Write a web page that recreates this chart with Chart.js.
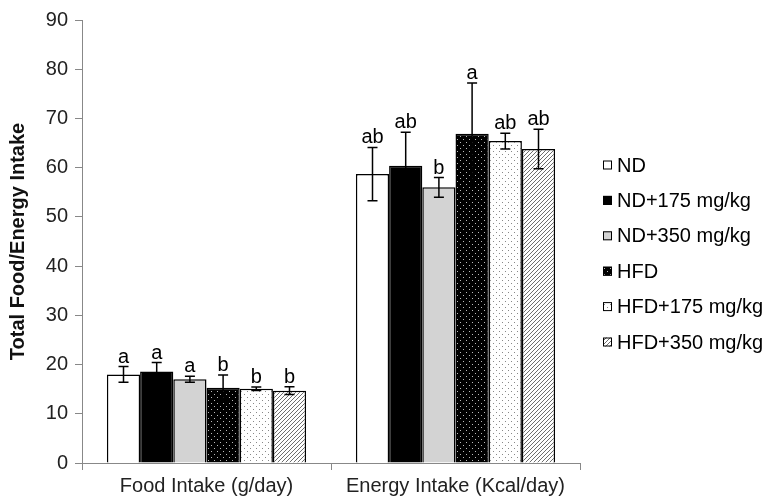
<!DOCTYPE html>
<html>
<head>
<meta charset="utf-8">
<script src="https://cdn.jsdelivr.net/npm/chart.js@4.4.1/dist/chart.umd.min.js"></script>
<style>
    html, body { margin: 0; padding: 0; background: #fff; }
    #wrap { width: 769px; height: 499px; }
</style>
</head>
<body>
<div id="wrap"><canvas id="intake-chart"></canvas></div>
<script>
// categories on the x axis
const categories = ['Food Intake (g/day)', 'Energy Intake (Kcal/day)'];
const groups = ['ND', 'ND+175 mg/kg', 'ND+350 mg/kg', 'HFD', 'HFD+175 mg/kg', 'HFD+350 mg/kg'];

// means
const ndValues = [18.0, 58.7];
const nd175Values = [18.6, 60.4];
const nd350Values = [17.0, 56.0];
const hfdValues = [15.3, 66.9];
const hfd175Values = [15.1, 65.4];
const hfd350Values = [14.7, 63.8];

// error bar half lengths
const ndErr = [1.6, 5.4];
const nd175Err = [1.8, 6.8];
const nd350Err = [0.6, 2.0];
const hfdErr = [2.6, 10.3];
const hfd175Err = [0.35, 1.6];
const hfd350Err = [0.8, 4.0];

// significance letters
const ndLetters = ['a', 'ab'];
const nd175Letters = ['a', 'ab'];
const nd350Letters = ['a', 'b'];
const hfdLetters = ['b', 'a'];
const hfd175Letters = ['b', 'ab'];
const hfd350Letters = ['b', 'ab'];

const yTicks = [0, 10, 20, 30, 40, 50, 60, 70, 80, 90];

const FONT = '"Liberation Sans", Arial, sans-serif';
Chart.defaults.font.family = FONT;

function dotPattern(bg, dot) {
    const c = document.createElement('canvas');
    c.width = 6; c.height = 6;
    const x = c.getContext('2d');
    x.fillStyle = bg;
    x.fillRect(0, 0, 6, 6);
    x.fillStyle = dot;
    x.fillRect(1, 1, 1, 1);
    x.fillRect(4, 4, 1, 1);
    return x.createPattern(c, 'repeat');
}

function hatchPattern() {
    const c = document.createElement('canvas');
    c.width = 4; c.height = 4;
    const x = c.getContext('2d');
    x.fillStyle = '#fff';
    x.fillRect(0, 0, 4, 4);
    x.fillStyle = '#6e6e6e';
    for (let i = 0; i < 4; i++) x.fillRect(i, 3 - i, 1, 1);
    return x.createPattern(c, 'repeat');
}

const fills = ['#ffffff', '#000000', '#d3d3d3', dotPattern('#000', '#bbb'), dotPattern('#fff', '#888'), hatchPattern()];
const values = [ndValues, nd175Values, nd350Values, hfdValues, hfd175Values, hfd350Values];
const errs = [ndErr, nd175Err, nd350Err, hfdErr, hfd175Err, hfd350Err];
const letters = [ndLetters, nd175Letters, nd350Letters, hfdLetters, hfd175Letters, hfd350Letters];

const datasets = groups.map(function (g, i) {
    return {
        label: g,
        data: values[i],
        errors: errs[i],
        letters: letters[i],
        backgroundColor: fills[i],
        borderColor: '#000',
        borderWidth: 1.5,
        categoryPercentage: 0.8,
        barPercentage: 1.0
    };
});

// error bars + letters above them
const errorBars = {
    id: 'errorBars',
    afterDatasetsDraw(chart) {
        const ctx = chart.ctx;
        const y = chart.scales.y;
        ctx.save();
        ctx.strokeStyle = '#000';
        ctx.lineWidth = 1.5;
        ctx.fillStyle = '#000';
        ctx.font = '20px ' + FONT;
        ctx.textAlign = 'center';
        ctx.textBaseline = 'alphabetic';
        chart.data.datasets.forEach(function (ds, d) {
            chart.getDatasetMeta(d).data.forEach(function (bar, i) {
                const v = ds.data[i], e = ds.errors[i];
                const top = y.getPixelForValue(v + e);
                const bot = y.getPixelForValue(v - e);
                ctx.beginPath();
                ctx.moveTo(bar.x, top); ctx.lineTo(bar.x, bot);
                ctx.moveTo(bar.x - 5, top); ctx.lineTo(bar.x + 5, top);
                ctx.moveTo(bar.x - 5, bot); ctx.lineTo(bar.x + 5, bot);
                ctx.stroke();
                ctx.fillText(ds.letters[i], bar.x, top - 4);
            });
        });
        ctx.restore();
    }
};

// legend on the right, Excel style
const sideLegend = {
    id: 'sideLegend',
    afterDraw(chart) {
        const ctx = chart.ctx;
        const x0 = chart.chartArea.right + 23;
        const y0 = chart.chartArea.top + 145;
        ctx.save();
        ctx.font = '20px ' + FONT;
        ctx.textBaseline = 'middle';
        ctx.textAlign = 'left';
        chart.data.datasets.forEach(function (ds, i) {
            const yy = y0 + i * 35.4;
            ctx.fillStyle = ds.backgroundColor;
            ctx.fillRect(x0, yy - 4.5, 9, 9);
            ctx.strokeStyle = '#000';
            ctx.lineWidth = 1;
            ctx.strokeRect(x0 + 0.5, yy - 4, 8, 8);
            ctx.fillStyle = '#000';
            ctx.fillText(ds.label, x0 + 14, yy + 1);
        });
        ctx.restore();
    }
};

new Chart(document.getElementById('intake-chart'), {
    type: 'bar',
    data: {
        labels: categories,
        datasets: datasets
    },
    options: {
        responsive: true,
        maintainAspectRatio: false,
        animation: false,
        layout: { padding: { top: 20, right: 189, left: 0, bottom: 0 } },
        plugins: {
            legend: { display: false },
            tooltip: { enabled: false }
        },
        scales: {
            x: {
                grid: { offset: true, drawOnChartArea: false, tickLength: 7, color: '#888' },
                border: { color: '#888' },
                ticks: { color: '#222', font: { size: 20 }, padding: 4 },
                afterFit(s) { s.height = 36; }
            },
            y: {
                min: 0,
                max: 90,
                afterBuildTicks(s) { s.ticks = yTicks.map(function (v) { return { value: v }; }); },
                grid: { drawOnChartArea: false, tickLength: 7, color: '#888' },
                border: { color: '#888' },
                ticks: { color: '#222', font: { size: 20 }, padding: 7 },
                title: {
                    display: true,
                    text: 'Total Food/Energy Intake',
                    color: '#111',
                    font: { size: 20, weight: 'bold' },
                    padding: { top: 6, bottom: 4 }
                },
                afterFit(s) { s.width = 82; }
            }
        }
    },
    plugins: [errorBars, sideLegend]
});
</script>
</body>
</html>
